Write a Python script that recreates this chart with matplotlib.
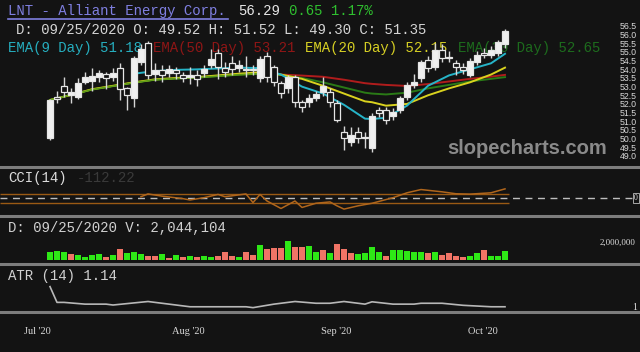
import numpy as np
import matplotlib
matplotlib.use("Agg")
import matplotlib.pyplot as plt
from matplotlib.lines import Line2D
import matplotlib.transforms as mtrans

# daily candles (index 0 = first visible bar)
opens = [50.08, 52.45, 53.09, 52.57, 52.45, 53.32, 53.38, 53.61, 53.78, 53.61,
         54.13, 52.97, 52.40, 54.50, 55.58, 53.80, 54.00, 53.85, 54.00, 53.73,
         53.60, 53.70, 53.84, 54.30, 55.00, 54.10, 54.42, 54.13, 54.05, 54.00,
         53.55, 54.82, 54.19, 53.26, 52.97, 53.61, 52.16, 52.16, 52.40, 52.74,
         52.74, 52.10, 50.43, 49.85, 50.43, 50.10, 49.52, 51.70, 51.70, 51.35,
         51.70, 52.45, 53.15, 53.55, 54.60, 54.19, 55.17, 54.70, 54.42, 54.19,
         53.73, 54.48, 55.00, 54.88, 55.00, 55.50]
highs = [52.35, 52.80, 53.61, 52.97, 53.55, 53.90, 54.10, 54.00, 53.90, 54.10,
         54.40, 53.05, 54.85, 55.50, 55.70, 54.40, 54.30, 54.30, 54.20, 53.90,
         54.20, 54.00, 54.30, 55.20, 55.20, 54.50, 54.80, 54.60, 54.80, 54.30,
         54.80, 55.05, 54.30, 53.40, 53.70, 53.70, 52.30, 52.60, 52.80, 53.60,
         53.00, 52.30, 50.80, 50.70, 50.70, 50.40, 51.52, 51.90, 51.90, 51.80,
         52.50, 53.30, 53.80, 54.60, 54.80, 55.60, 55.50, 55.10, 54.60, 54.40,
         54.70, 55.10, 55.30, 55.40, 55.75, 56.40]
lows = [49.95, 52.10, 52.45, 52.10, 52.33, 53.20, 52.80, 53.30, 52.90, 53.40,
        52.30, 51.70, 51.90, 54.30, 53.50, 53.40, 53.30, 53.60, 53.50, 53.30,
        53.20, 53.10, 53.60, 54.10, 53.50, 53.60, 53.70, 53.90, 53.60, 53.70,
        53.30, 53.30, 53.10, 52.38, 52.70, 51.88, 51.59, 51.90, 52.20, 52.50,
        51.90, 51.00, 49.39, 49.60, 49.80, 49.50, 49.30, 51.30, 50.90, 51.10,
        51.50, 52.30, 53.00, 53.30, 53.90, 54.00, 54.50, 54.50, 53.73, 53.80,
        53.60, 54.30, 54.70, 54.70, 54.80, 55.30]
closes = [52.28, 52.35, 52.74, 52.74, 53.26, 53.61, 53.67, 53.84, 53.55, 53.84,
          52.92, 52.57, 54.71, 55.20, 53.73, 54.00, 53.75, 54.05, 53.85, 53.55,
          53.75, 53.50, 54.07, 54.65, 54.19, 53.90, 54.07, 54.30, 54.00, 54.05,
          54.65, 53.61, 53.32, 52.68, 53.61, 52.16, 51.88, 52.40, 52.60, 53.09,
          52.16, 51.12, 50.08, 50.26, 50.08, 50.15, 51.35, 51.53, 51.12, 51.60,
          52.40, 53.15, 53.32, 54.48, 54.13, 55.17, 54.70, 54.75, 54.19, 54.01,
          54.53, 54.88, 54.88, 55.17, 55.64, 56.29]

# volume in millions and whether the bar is green
volume = [1.34, 1.45, 1.24, 0.97, 0.81, 0.43, 0.81, 0.97, 0.43, 0.81,
          1.66, 1.13, 1.24, 0.97, 0.70, 0.59, 0.97, 0.27, 0.81, 0.43,
          0.70, 0.43, 0.59, 0.43, 0.70, 1.24, 0.59, 0.43, 1.24, 0.81,
          2.31, 1.77, 1.88, 1.93, 3.01, 2.04, 2.04, 2.20, 1.34, 1.50,
          1.13, 2.47, 1.77, 1.07, 0.97, 1.13, 2.04, 1.24, 0.70, 1.50,
          1.50, 1.40, 1.34, 1.34, 1.13, 1.34, 0.81, 1.07, 0.59, 0.43,
          0.59, 1.13, 1.56, 0.59, 0.59, 1.40]
vol_up = [1, 1, 1, 0, 1, 1, 1, 1, 0, 1, 0, 1, 1, 1, 0, 0, 1, 0, 1, 0,
          1, 0, 1, 1, 0, 0, 0, 1, 0, 0, 1, 0, 0, 0, 1, 0, 0, 1, 1, 0,
          1, 0, 0, 0, 1, 1, 1, 1, 0, 1, 1, 1, 1, 1, 0, 1, 0, 0, 0, 0,
          1, 1, 0, 1, 1, 1]

# moving averages
ema_idx = [0, 3, 6, 9, 12, 15, 18, 21, 24, 27, 30, 33, 36, 39, 42, 45, 46,
           48, 51, 54, 57, 60, 63, 65]
ema20 = [52.28, 52.57, 52.90, 53.10, 53.30, 53.47, 53.55, 53.60, 53.70, 53.80,
         53.88, 53.75, 53.50, 53.10, 52.65, 52.20, 52.15, 51.95, 52.05, 52.55,
         52.95, 53.30, 53.75, 54.15]
ema30 = [52.28, 52.57, 52.88, 53.08, 53.28, 53.45, 53.52, 53.57, 53.66, 53.74,
         53.80, 53.72, 53.55, 53.30, 53.00, 52.70, 52.65, 52.60, 52.70, 52.95,
         53.15, 53.35, 53.50, 53.60]
ema9_idx = [12, 15, 18, 21, 24, 27, 30, 33, 36, 39, 42, 45, 46, 48, 51, 54,
            57, 60, 63, 65]
ema9 = [53.80, 53.95, 54.02, 54.05, 54.10, 54.15, 54.12, 53.75, 53.05, 52.65,
        52.00, 51.20, 51.18, 51.25, 51.95, 53.10, 53.70, 54.05, 54.40, 54.95]
ema50_idx = [30, 33, 36, 39, 42, 45, 46, 48, 51, 54, 57, 60, 63, 65]
ema50 = [53.80, 53.75, 53.69, 53.62, 53.45, 53.25, 53.21, 53.15, 53.09, 53.20,
         53.35, 53.50, 53.63, 53.73]

cci_idx = [13, 14, 16, 19, 20, 22, 24, 25, 28, 29, 30, 31, 33, 35, 36, 38, 40,
           41, 42, 44, 46, 49, 51, 53, 56, 58, 60, 63, 65]
cci = [37, 100, 50, -7, -37, 15, 89, 37, 100, -96, 89, -60, -230, -60, -207,
       -111, -81, -170, -244, -170, -112, 15, 126, 200, 148, 104, 96, 126, 215]

atr_idx = [0, 1, 2, 5, 8, 9, 14, 17, 20, 24, 28, 29, 32, 35, 38, 40, 42, 45,
           46, 49, 52, 53, 56, 59, 63, 65]
atr = [1.66, 1.12, 1.12, 1.06, 1.06, 1.03, 1.15, 1.06, 0.97, 0.97, 0.97, 0.94,
       1.06, 1.15, 1.09, 1.09, 1.15, 1.06, 1.14, 1.06, 1.06, 1.09, 1.09, 1.02,
       0.97, 0.97]

price_ticks = np.arange(49.0, 56.51, 0.5)
date_pos = [-1.8, 19.8, 40.9, 61.9]
date_labels = ["Jul '20", "Aug '20", "Sep '20", "Oct '20"]

BG = "#131313"
W, H = 640, 352
X0, DX = 50, 7.0          # pixel of first bar, pixels per bar
XMIN, XMAX = -X0 / DX, (W - X0) / DX
MONO = "Liberation Mono"

fig = plt.figure(figsize=(W / 100, H / 100), dpi=100)
fig.patch.set_facecolor(BG)


def panel(top, bottom, ylim):
    a = fig.add_axes([0, 1 - bottom / H, 1, (bottom - top) / H])
    a.set_xlim(XMIN, XMAX)
    a.set_ylim(*ylim)
    a.set_axis_off()
    return a


def ftext(a, x, y, s, **kw):
    kw.setdefault("family", MONO)
    kw.setdefault("fontsize", 10.1)
    kw.setdefault("va", "center")
    return a.text(x / W, 1 - y / H, s, transform=fig.transFigure, **kw)


ax = panel(0, 165, (48.52, 58.06))
ax_cci = panel(168, 215, (-378, 689))
ax_vol = panel(217, 263, (-0.49, 6.83))
ax_atr = panel(265, 311, (0.825, 2.40))

# separators
for yy in [166.5, 216.0, 264.2, 312.2]:
    fig.add_artist(Line2D([0, 1], [1 - yy / H] * 2, color="#7d7d7d", lw=2.2,
                          transform=fig.transFigure))

# ---- price panel
idx = np.arange(len(closes))
o, hi, lo, c = map(np.array, (opens, highs, lows, closes))
up = c >= o
ax.vlines(idx, lo, hi, color="#d6d6d6", lw=1.0, zorder=3)
ax.bar(idx, np.maximum(np.abs(c - o), 0.05), bottom=np.minimum(o, c), width=0.74,
       color=np.where(up, "#f0f0f0", "#121212"), edgecolor="#e6e6e6",
       linewidth=0.9, zorder=4)

ax.plot(ema50_idx, ema50, color="#b01c1c", lw=1.4, zorder=2)
ax.plot(ema_idx, ema30, color="#2a7a16", lw=1.4, zorder=2.1)
ax.plot(ema_idx, ema20, color="#d9d21e", lw=1.4, zorder=2.2)
ax.plot(ema_idx[:11], ema30[:11], color="#5e9a18", lw=1.2, zorder=2.3)
ax.plot(ema9_idx, ema9, color="#26b4c8", lw=1.4, zorder=2.4)

ytr = mtrans.blended_transform_factory(ax.transAxes, ax.transData)
for p in price_ticks:
    ax.text(628 / W, p, f"{p:.1f}", transform=ytr, ha="center", va="center",
            fontsize=6.3, color="#d8d8d8", family="Liberation Sans")

ax.text(527 / W, 1 - 148 / H, "slopecharts.com", transform=fig.transFigure,
        ha="center", va="center", fontsize=14.5, fontweight="bold",
        color="#8a8a8a", family="Liberation Sans", zorder=1)

# header
ftext(ax, 8, 11, "LNT - Alliant Energy Corp.", color="#7f7fe0", zorder=1)
fig.add_artist(Line2D([8 / W, 228 / W], [1 - 19 / H] * 2, color="#7f7fe0",
                      lw=1.2, transform=fig.transFigure))
ftext(ax, 238, 11, "56.29", color="#e6e6e6", zorder=1)
ftext(ax, 289, 11, "0.65 1.17%", color="#2fbf2f", zorder=1)
ftext(ax, 16, 30, "D: 09/25/2020 O: 49.52 H: 51.52 L: 49.30 C: 51.35",
      color="#d4d4d4", zorder=1)
ftext(ax, 8, 48, "EMA(9 Day) 51.18", color="#26aebf", zorder=1)
ftext(ax, 153, 48, "EMA(50 Day) 53.21", color="#8e1616", zorder=1)
ftext(ax, 305, 48, "EMA(20 Day) 52.15", color="#d6cf24", zorder=1)
ftext(ax, 458, 48, "EMA(30 Day) 52.65", color="#1d6b1d", zorder=1)

# ---- CCI panel
last = len(closes) - 0.5
ax_cci.hlines([100, -100], XMIN, last, color="#9a5a14", lw=1.0)
ax_cci.hlines(0, XMIN, XMAX - 0.6, color="#bdbdbd", lw=1.0, linestyles=(0, (5, 4)))
ax_cci.plot(cci_idx, cci, color="#b0661c", lw=1.1)
ftext(ax_cci, 8, 178, "CCI(14)", color="#dcdcdc")
ftext(ax_cci, 77, 178, "-112.22", color="#3a3a3a")
ax_cci.text(636 / W, 0, "0", transform=mtrans.blended_transform_factory(
    ax_cci.transAxes, ax_cci.transData), ha="center", va="center",
    fontsize=5.5, color="#e0e0e0", family="Liberation Serif",
    bbox=dict(boxstyle="square,pad=0.15", fc=BG, ec="#bdbdbd", lw=0.6))

# ---- volume panel
ax_vol.bar(idx, volume, width=0.92,
           color=["#2ee816" if u else "#f07466" for u in vol_up])
ftext(ax_vol, 8, 228, "D: 09/25/2020 V: 2,044,104", color="#d0d0d0")
ax_vol.text(618 / W, 2.75, "2,000,000", transform=mtrans.blended_transform_factory(
    ax_vol.transAxes, ax_vol.transData), ha="center", va="center",
    fontsize=6.3, color="#e0e0e0", family="Liberation Serif")

# ---- ATR panel
ax_atr.plot(atr_idx, atr, color="#b8b8b8", lw=1.2)
ftext(ax_atr, 8, 276, "ATR (14) 1.14", color="#d0d0d0")
ax_atr.text(635 / W, 0.95, "1", transform=mtrans.blended_transform_factory(
    ax_atr.transAxes, ax_atr.transData), ha="center", va="center",
    fontsize=7, color="#e0e0e0", family="Liberation Serif")

# ---- date axis
for xp, lab in zip(date_pos, date_labels):
    fig.text((X0 + xp * DX) / W, 1 - 332 / H, lab, ha="center", va="center",
             fontsize=7.5, color="#d8d8d8", family="Liberation Serif")

fig.savefig("out.png", dpi=100, facecolor=BG)
